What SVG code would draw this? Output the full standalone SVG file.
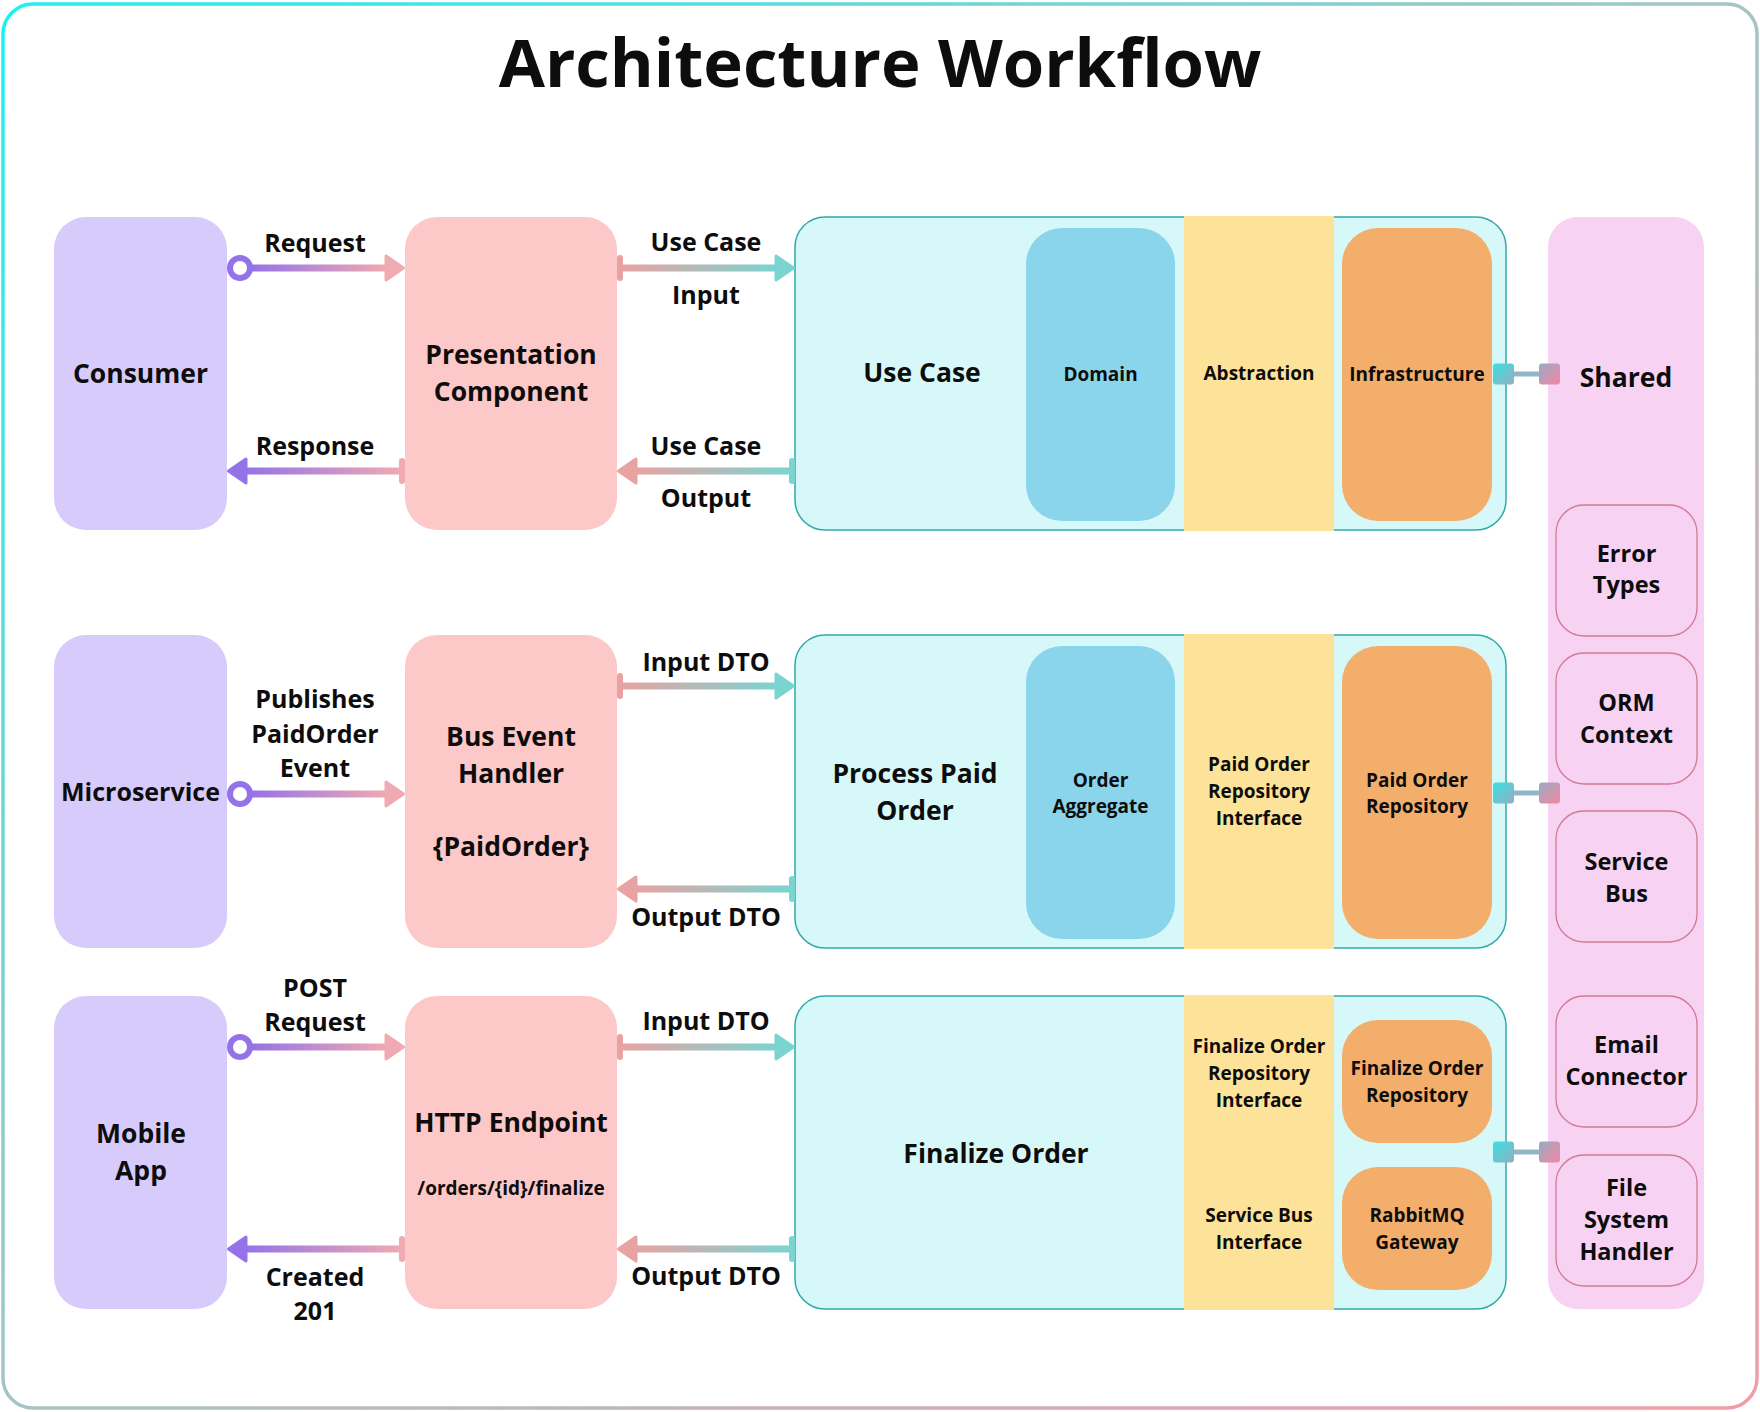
<svg xmlns="http://www.w3.org/2000/svg" width="1760" height="1412" viewBox="0 0 1760 1412">
<defs>
<linearGradient id="gBorder" x1="0" y1="0" x2="1" y2="1">
<stop offset="0" stop-color="#1ef0f0"/>
<stop offset="0.5" stop-color="#a6c4c4"/>
<stop offset="1" stop-color="#f29ca6"/>
</linearGradient>
<linearGradient id="gPP" x1="0" y1="0" x2="1" y2="0">
<stop offset="0" stop-color="#9472e8"/>
<stop offset="1" stop-color="#f0aab2"/>
</linearGradient>
<linearGradient id="gPT" x1="0" y1="0" x2="1" y2="0">
<stop offset="0" stop-color="#e8a2a2"/>
<stop offset="1" stop-color="#7ad4d0"/>
</linearGradient>
<linearGradient id="gSqL" x1="0" y1="0" x2="1" y2="1">
<stop offset="0" stop-color="#38e0e2"/>
<stop offset="1" stop-color="#94aec0"/>
</linearGradient>
<linearGradient id="gSqR" x1="0" y1="0" x2="1" y2="1">
<stop offset="0" stop-color="#98acc2"/>
<stop offset="1" stop-color="#f486a2"/>
</linearGradient>
</defs>
<style>
.t{font-family:"Open Sans","Noto Sans","DejaVu Sans",sans-serif;font-weight:700;fill:#0d0d0d;text-anchor:middle}
.title{font-size:67px}
.n{font-size:26.5px}
.e{font-size:25px}
.s{font-size:19px}
.m{font-size:23.5px}
.client{fill:#d7cbfc}
.pres{fill:#fcc8c8}
.cont{fill:#d7f8f8;stroke:#2eaaa8;stroke-width:1.5}
.dom{fill:#8ad5eb}
.abs{fill:#fde399}
.inf{fill:#f4ae6c}
.shared{fill:#f8d2f2}
.sub{fill:#f8d2f2;stroke:#d27a92;stroke-width:1.3}
.lnPP{fill:url(#gPP)}
.lnPT{fill:url(#gPT)}
.purple{fill:#9472e8;stroke:#9472e8;stroke-width:3;stroke-linejoin:round}
.pink{fill:#f0aab2;stroke:#f0aab2;stroke-width:3;stroke-linejoin:round}
.salmon{fill:#e8a2a2;stroke:#e8a2a2;stroke-width:3;stroke-linejoin:round}
.teal{fill:#7ad4d0;stroke:#7ad4d0;stroke-width:3;stroke-linejoin:round}
.ring{fill:#ffffff;stroke:#9472e8;stroke-width:6}
.sqL{fill:url(#gSqL)}
.sqR{fill:url(#gSqR)}
.link{stroke:#92b6c8;stroke-width:5}
</style>
<rect x="3" y="4" width="1754" height="1404" rx="30" fill="#ffffff" stroke="url(#gBorder)" stroke-width="3.5"/>
<text class="t title" x="880" y="87">Architecture Workflow</text>

<!-- Row 1 -->
<g id="consumer"><rect class="client" x="54" y="217" width="173" height="313" rx="32"/><text class="t n" x="140.5" y="383">Consumer</text></g>
<g id="presentation"><rect class="pres" x="405" y="217" width="212" height="313" rx="32"/><text class="t n" x="511" y="364">Presentation</text><text class="t n" x="511" y="401">Component</text></g>
<g id="usecase">
<rect class="cont" x="795" y="217" width="711" height="313" rx="30"/>
<rect class="abs" x="1184" y="216" width="150" height="315"/>
<text class="t n" x="922" y="382">Use Case</text>
</g>
<g id="domain"><rect class="dom" x="1026" y="228" width="149" height="293" rx="36"/><text class="t s" x="1100.5" y="381">Domain</text></g>
<g id="abstraction"><text class="t s" x="1259" y="380">Abstraction</text></g>
<g id="infrastructure"><rect class="inf" x="1342" y="228" width="150" height="293" rx="36"/><text class="t s" x="1417" y="381">Infrastructure</text></g>

<!-- Shared -->
<g id="shared"><rect class="shared" x="1548" y="217" width="156" height="1092" rx="30"/><text class="t n" x="1626" y="387">Shared</text></g>
<g id="error-types"><rect class="sub" x="1556" y="505" width="141" height="131" rx="28"/><text class="t m" x="1626.5" y="562">Error</text><text class="t m" x="1626.5" y="593">Types</text></g>
<g id="orm-context"><rect class="sub" x="1556" y="653" width="141" height="131" rx="28"/><text class="t m" x="1626.5" y="711">ORM</text><text class="t m" x="1626.5" y="743">Context</text></g>
<g id="service-bus"><rect class="sub" x="1556" y="811" width="141" height="131" rx="28"/><text class="t m" x="1626.5" y="870">Service</text><text class="t m" x="1626.5" y="902">Bus</text></g>
<g id="email-connector"><rect class="sub" x="1556" y="996" width="141" height="131" rx="28"/><text class="t m" x="1626.5" y="1053">Email</text><text class="t m" x="1626.5" y="1085">Connector</text></g>
<g id="file-system-handler"><rect class="sub" x="1556" y="1155" width="141" height="131" rx="28"/><text class="t m" x="1626.5" y="1196">File</text><text class="t m" x="1626.5" y="1228">System</text><text class="t m" x="1626.5" y="1260">Handler</text></g>

<!-- Row 2 -->
<g id="microservice"><rect class="client" x="54" y="635" width="173" height="313" rx="32"/><text class="t" style="font-size:25px" x="140.5" y="801">Microservice</text></g>
<g id="bus-event-handler"><rect class="pres" x="405" y="635" width="212" height="313" rx="32"/><text class="t n" x="511" y="746">Bus Event</text><text class="t n" x="511" y="783">Handler</text><text class="t n" x="511" y="856">{PaidOrder}</text></g>
<g id="process-paid-order">
<rect class="cont" x="795" y="635" width="711" height="313" rx="30"/>
<rect class="abs" x="1184" y="634" width="150" height="315"/>
<text class="t n" x="915" y="783">Process Paid</text><text class="t n" x="915" y="820">Order</text>
</g>
<g id="order-aggregate"><rect class="dom" x="1026" y="646" width="149" height="293" rx="36"/><text class="t s" x="1100.5" y="787">Order</text><text class="t s" x="1100.5" y="813">Aggregate</text></g>
<g id="paid-order-repository-interface"><text class="t s" x="1259" y="771">Paid Order</text><text class="t s" x="1259" y="798">Repository</text><text class="t s" x="1259" y="825">Interface</text></g>
<g id="paid-order-repository"><rect class="inf" x="1342" y="646" width="150" height="293" rx="36"/><text class="t s" x="1417" y="787">Paid Order</text><text class="t s" x="1417" y="813">Repository</text></g>

<!-- Row 3 -->
<g id="mobile-app"><rect class="client" x="54" y="996" width="173" height="313" rx="32"/><text class="t n" x="141" y="1143">Mobile</text><text class="t n" x="141" y="1180">App</text></g>
<g id="http-endpoint"><rect class="pres" x="405" y="996" width="212" height="313" rx="32"/><text class="t n" x="511" y="1132">HTTP Endpoint</text><text class="t s" x="511" y="1195">/orders/{id}/finalize</text></g>
<g id="finalize-order">
<rect class="cont" x="795" y="996" width="711" height="313" rx="30"/>
<rect class="abs" x="1184" y="995" width="150" height="315"/>
<text class="t n" x="996" y="1163">Finalize Order</text>
</g>
<g id="finalize-order-repository-interface"><text class="t s" x="1259" y="1053">Finalize Order</text><text class="t s" x="1259" y="1080">Repository</text><text class="t s" x="1259" y="1107">Interface</text></g>
<g id="service-bus-interface"><text class="t s" x="1259" y="1222">Service Bus</text><text class="t s" x="1259" y="1249">Interface</text></g>
<g id="finalize-order-repository"><rect class="inf" x="1342" y="1020" width="150" height="123" rx="36"/><text class="t s" x="1417" y="1075">Finalize Order</text><text class="t s" x="1417" y="1102">Repository</text></g>
<g id="rabbitmq-gateway"><rect class="inf" x="1342" y="1167" width="150" height="123" rx="36"/><text class="t s" x="1417" y="1222">RabbitMQ</text><text class="t s" x="1417" y="1249">Gateway</text></g>

<!-- Connectors -->
<g id="connectors">
<!-- Row 1 -->
<rect class="lnPP" x="248" y="264.5" width="140" height="7"/>
<circle class="ring" cx="240" cy="268" r="10"/>
<path class="pink" d="M403.5 268 L386 256 L386 280 Z"/>
<text class="t e" x="315" y="252">Request</text>

<rect class="lnPP" x="244" y="467.5" width="158" height="7"/>
<path class="purple" d="M228.5 471 L246 459 L246 483 Z"/>
<rect x="399" y="458" width="6" height="26" rx="3" fill="#f0aab2"/>
<text class="t e" x="315" y="455">Response</text>

<rect class="lnPT" x="620" y="264.5" width="158" height="7"/>
<rect x="617" y="255" width="6" height="26" rx="3" fill="#e8a2a2"/>
<path class="teal" d="M793.5 268 L776 256 L776 280 Z"/>
<text class="t e" x="706" y="251">Use Case</text>
<text class="t e" x="706" y="304">Input</text>

<rect class="lnPT" x="634" y="467.5" width="158" height="7"/>
<path class="salmon" d="M618.5 471 L636 459 L636 483 Z"/>
<rect x="789" y="458" width="6" height="26" rx="3" fill="#7ad4d0"/>
<text class="t e" x="706" y="455">Use Case</text>
<text class="t e" x="706" y="507">Output</text>

<line class="link" x1="1512" y1="374" x2="1541" y2="374"/>
<rect class="sqL" x="1493" y="363.5" width="21" height="21" rx="3"/>
<rect class="sqR" x="1539" y="363.5" width="21" height="21" rx="3"/>

<!-- Row 2 -->
<rect class="lnPP" x="248" y="790.5" width="140" height="7"/>
<circle class="ring" cx="240" cy="794" r="10"/>
<path class="pink" d="M403.5 794 L386 782 L386 806 Z"/>
<text class="t e" x="315" y="708">Publishes</text>
<text class="t e" x="315" y="743">PaidOrder</text>
<text class="t e" x="315" y="777">Event</text>

<rect class="lnPT" x="620" y="682.5" width="158" height="7"/>
<rect x="617" y="673" width="6" height="26" rx="3" fill="#e8a2a2"/>
<path class="teal" d="M793.5 686 L776 674 L776 698 Z"/>
<text class="t e" x="706" y="671">Input DTO</text>

<rect class="lnPT" x="634" y="885.5" width="158" height="7"/>
<path class="salmon" d="M618.5 889 L636 877 L636 901 Z"/>
<rect x="789" y="876" width="6" height="26" rx="3" fill="#7ad4d0"/>
<text class="t e" x="706" y="926">Output DTO</text>

<line class="link" x1="1512" y1="793" x2="1541" y2="793"/>
<rect class="sqL" x="1493" y="782.5" width="21" height="21" rx="3"/>
<rect class="sqR" x="1539" y="782.5" width="21" height="21" rx="3"/>

<!-- Row 3 -->
<rect class="lnPP" x="248" y="1043.5" width="140" height="7"/>
<circle class="ring" cx="240" cy="1047" r="10"/>
<path class="pink" d="M403.5 1047 L386 1035 L386 1059 Z"/>
<text class="t e" x="315" y="997">POST</text>
<text class="t e" x="315" y="1031">Request</text>

<rect class="lnPP" x="244" y="1245.5" width="158" height="7"/>
<path class="purple" d="M228.5 1249 L246 1237 L246 1261 Z"/>
<rect x="399" y="1236" width="6" height="26" rx="3" fill="#f0aab2"/>
<text class="t e" x="315" y="1286">Created</text>
<text class="t e" x="315" y="1320">201</text>

<rect class="lnPT" x="620" y="1043.5" width="158" height="7"/>
<rect x="617" y="1034" width="6" height="26" rx="3" fill="#e8a2a2"/>
<path class="teal" d="M793.5 1047 L776 1035 L776 1059 Z"/>
<text class="t e" x="706" y="1030">Input DTO</text>

<rect class="lnPT" x="634" y="1245.5" width="158" height="7"/>
<path class="salmon" d="M618.5 1249 L636 1237 L636 1261 Z"/>
<rect x="789" y="1236" width="6" height="26" rx="3" fill="#7ad4d0"/>
<text class="t e" x="706" y="1285">Output DTO</text>

<line class="link" x1="1512" y1="1152" x2="1541" y2="1152"/>
<rect class="sqL" x="1493" y="1141.5" width="21" height="21" rx="3"/>
<rect class="sqR" x="1539" y="1141.5" width="21" height="21" rx="3"/>
</g>
</svg>
